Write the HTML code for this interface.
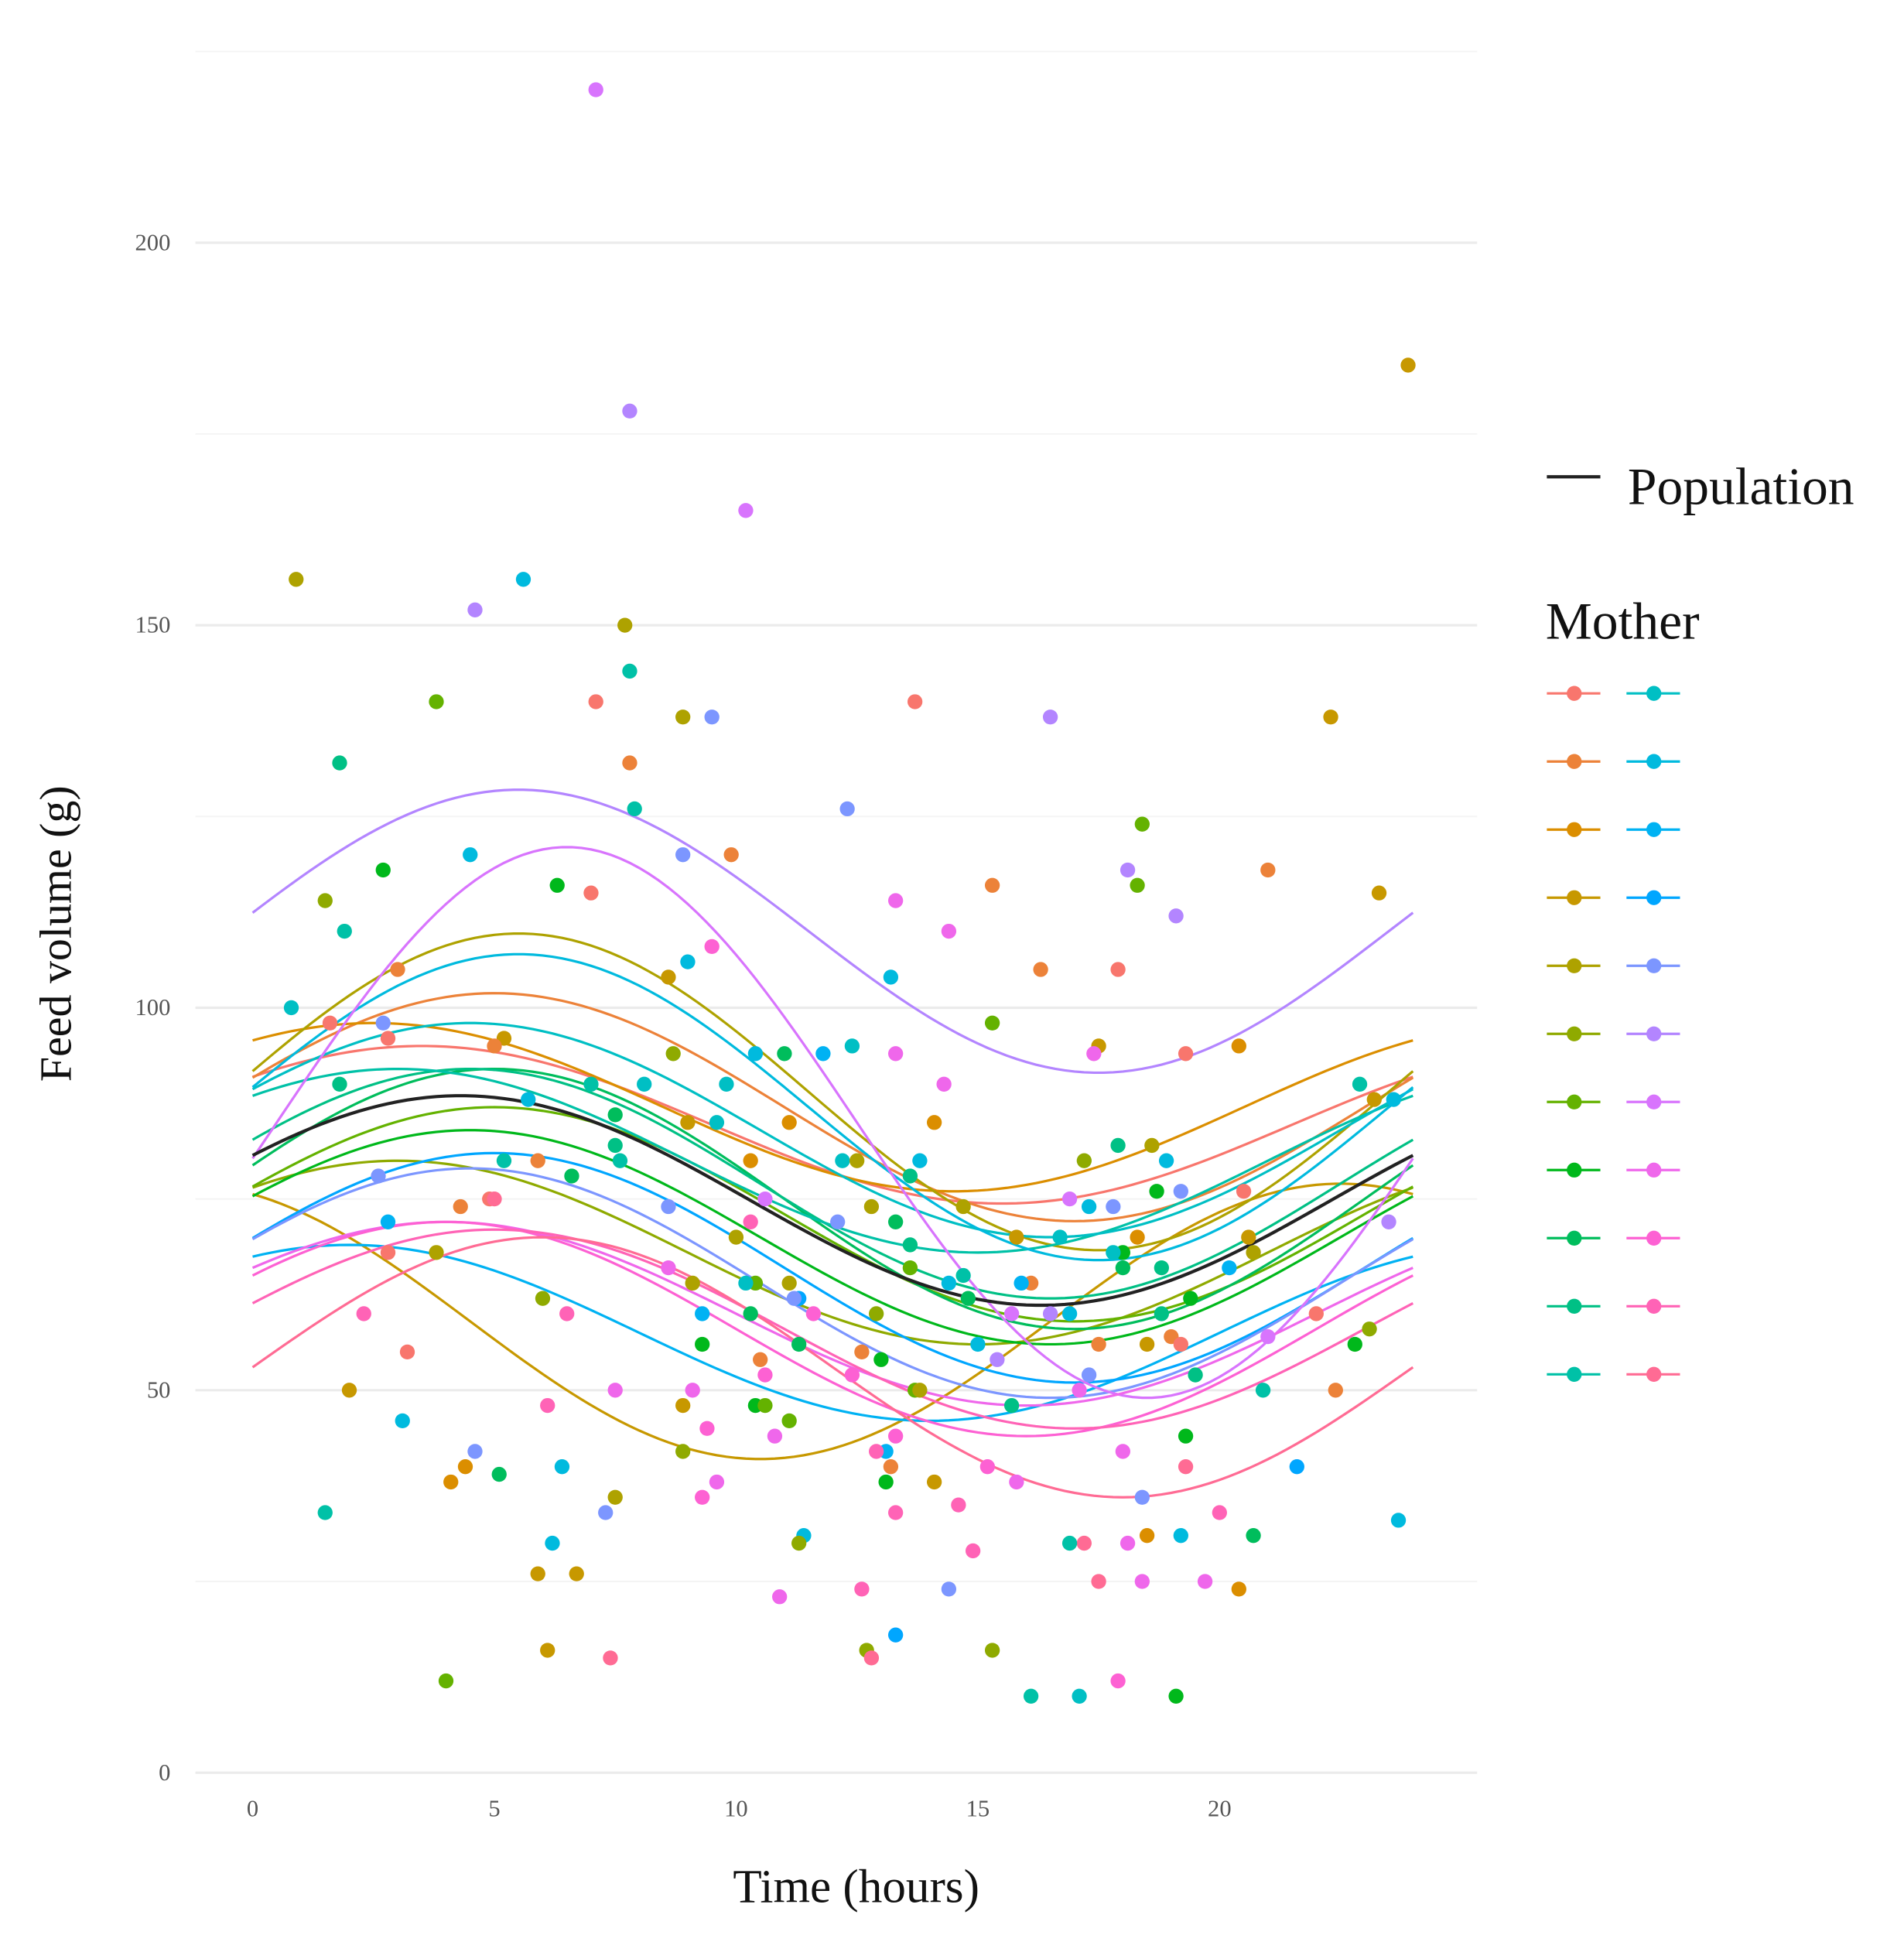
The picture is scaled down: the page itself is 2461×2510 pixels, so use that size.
<!DOCTYPE html>
<html><head><meta charset="utf-8"><style>
html,body{margin:0;padding:0;background:#fff;}
svg{display:block;}
text{font-family:"Liberation Serif",serif;}
</style></head><body>
<svg id="chart" width="2461" height="2510" viewBox="0 0 1530 1560" preserveAspectRatio="none" xmlns="http://www.w3.org/2000/svg">
<g id="grid"></g>
<g id="curves"></g>
<g id="points"></g>
<g id="axes"></g>
<text x="688" y="1528" font-size="38" text-anchor="middle" fill="#111">Time (hours)</text>
<text transform="translate(57,750) rotate(-90)" font-size="36" text-anchor="middle" fill="#111">Feed volume (g)</text>
<g id="legend"></g>
</svg>
<script>
const xTicks=[0,5,10,15,20];
const yTicks=[0,50,100,150,200];
const minorY=[25,75,125,175,225];
// population curve: mean, amplitude, peak hour
const popMean=74.8, popAmp=13.7, popPeak=4.3;
// per-mother curves
const motherMean=[84.7,87,87,59,89,68,73,70,75,77,80,84,87,57.5,66,64,110,85,60,58,58,53];
const motherAmp=[10.3,14.9,11,18,20.7,12,14,14,17,15,12,14,20,11.5,15,15,18.5,36,12,14,13,17];
const motherPeak=[3.5,5,2.5,22.5,5.5,3,5,4.5,5,4.5,3,4.5,5.5,2,5,4.5,5.5,6.5,4,4,5,6];
// points: hours, grams, mother index
const ptT=[7.1,23.9,7.8,10.2,0.9,4.6,5.6,7.7,7.1,3.8,7.8,8.9,9.5,7.8,13.7,16.5,22.3,1.8,7.9,12.3,2.7,4.5,8.9,9.9,1.5,6.3,7.0,15.3,18.4,18.1,18.3,21.0,23.3,13.3,19.1,14.4,0.8,1.9,1.6,2.7,2.8,3.0,5.2,5.0,8.6,9.0,9.5,12.4,13.2,15.3,16.3,17.9,17.5,17.4,20.4,19.3,14.3,13.3,10.4,11.0,11.8,1.8,5.7,7.0,8.1,7.5,8.7,9.8,9.6,9.0,11.1,14.1,12.2,12.5,7.5,7.6,5.2,5.9,10.3,13.8,6.6,2.6,4.3,4.9,10.6,13.6,12.8,14.7,15.8,16.7,16.9,17.2,17.9,18.6,17.8,17.3,18.7,19.2,18.9,18.3,18.0,17.8,18.0,18.5,17.5,18.8,19.0,18.8,19.4,19.5,19.2,20.5,20.6,20.7,20.2,21.0,20.9,21.6,22.0,22.4,22.8,23.1,22.9,23.2,23.6,23.5,23.7,19.2,19.3,19.1,19.3,20.0,20.4,20.7,19.7,18.4,18.5,18.4,18.1,17.9,18.0,17.5,17.2,16.9,17.1,16.1,15.8,15.7,15.2,15.3,14.6,14.9,14.4,14.1,15.0,15.7,16.1,15.9,16.5,16.9,17.3,17.1,14.7,14.4,14.8,15.4,13.6,13.6,13.3,12.9,12.6,13.0,13.7,13.8,13.2,13.3,13.1,12.9,13.1,13.3,12.6,12.7,12.8,13.3,11.4,11.3,10.9,10.8,11.1,10.4,10.6,10.6,10.5,11.3,11.6,11.3,10.4,10.3,11.2,12.4,12.1,11.1,10.0,10.3,10.2,9.1,8.6,8.6,9.3,9.3,9.1,8.9,8.9,9.4,9.6,9.3,7.5,7.5,7.3,7.4,6.7,6.1,5.9,6.4,6.2,6.1,6.5,6.0,5.1,4.4,4.1,4.6,4.0,3.8,3.2,3.1,2.3,2.0,1.5,2.8,2.8,5.0];
const ptV=[220,184,178,165,156,152,156,150,140,140,144,138,138,132,140,138,138,132,126,126,118,120,120,120,114,116,115,116,124,118,116,118,115,114,112,110,100,110,98,98,96,105,96,95,104,106,108,95,104,98,105,105,95,94,95,94,90,94,94,94,94,90,88,90,90,86,94,90,85,85,85,85,80,80,82,80,80,80,80,80,78,78,74,75,75,78,74,74,70,70,75,80,82,82,74,74,76,76,80,70,68,68,66,56,56,66,57,60,62,52,56,76,70,68,66,57,50,40,60,50,56,58,90,88,88,72,33,31,44,10,40,34,24,31,25,36,31,25,30,12,42,25,30,30,10,10,38,48,40,16,35,29,24,38,56,60,64,64,60,60,52,50,65,64,62,54,69,66,72,60,55,54,50,50,40,44,42,42,38,34,24,16,15,18,31,30,23,44,46,48,48,52,54,56,60,62,64,60,62,52,72,64,70,72,64,64,66,74,60,56,50,48,42,45,38,36,50,36,34,15,26,16,26,40,30,48,60,62,39,40,38,42,12,68,55,46,60,50,34,72,68,75];
const ptM=[17,3,16,17,4,16,12,4,0,6,10,4,15,1,0,16,3,9,10,15,7,12,15,1,5,7,0,1,6,16,6,1,3,18,16,18,11,10,0,15,0,1,3,1,3,12,19,11,12,6,1,0,3,18,2,0,18,18,12,8,13,9,12,10,11,8,5,11,11,3,2,2,11,4,9,10,10,1,2,12,8,15,1,0,17,9,4,4,3,11,17,5,9,4,15,12,7,15,12,2,7,11,8,3,1,9,1,9,7,9,0,0,3,4,13,17,10,14,0,1,7,5,10,3,12,16,12,12,7,7,21,20,2,8,18,15,2,18,18,19,18,21,21,10,11,10,18,9,19,5,20,20,15,3,12,17,1,13,16,12,15,18,10,12,8,16,9,6,8,5,1,7,6,4,1,19,13,20,7,20,20,5,21,14,12,5,18,18,6,7,6,19,1,8,19,14,6,8,15,19,15,4,4,20,11,4,18,15,13,7,18,3,5,19,18,19,18,4,15,21,3,3,3,12,12,20,20,5,8,2,2,15,6,4,0,12,20,3,10,13,0,21];

const NS="http://www.w3.org/2000/svg";
const X0=203, XS=38.85, Y0=1424, YS=6.145;
function sx(t){return X0+t*XS;}
function sy(v){return Y0-v*YS;}
function mk(tag,attrs,parent){const e=document.createElementNS(NS,tag);for(const k in attrs)e.setAttribute(k,attrs[k]);parent.appendChild(e);return e;}
function hcl(h){const L=65,C=100;const hr=h*Math.PI/180;const u=C*Math.cos(hr),v=C*Math.sin(hr);
 const Xn=95.047,Yn=100,Zn=108.883;const d=Xn+15*Yn+3*Zn;const un=4*Xn/d,vn=9*Yn/d;
 const Y=Yn*Math.pow((L+16)/116,3);const up=u/(13*L)+un,vp=v/(13*L)+vn;
 const X=Y*9*up/(4*vp),Z=Y*(12-3*up-20*vp)/(4*vp);
 const x=X/100,y=Y/100,z=Z/100;
 let r=3.2404542*x-1.5371385*y-0.4985314*z,g=-0.9692660*x+1.8760108*y+0.0415560*z,b=0.0556434*x-0.2040259*y+1.0572252*z;
 const gm=c=>{c=c<=0.0031308?12.92*c:1.055*Math.pow(c,1/2.4)-0.055;return Math.round(Math.max(0,Math.min(1,c))*255);};
 return "rgb("+gm(r)+","+gm(g)+","+gm(b)+")";}
const N=motherMean.length;
const cols=[];for(let i=0;i<N;i++)cols.push(hcl(15+i*360/N));

const grid=document.getElementById('grid');
for(const v of minorY){const l=mk('line',{x1:157,x2:1187,y1:sy(v),y2:sy(v),stroke:'#f4f4f4','stroke-width':1.2},grid);

}
for(const v of yTicks){const l=mk('line',{x1:157,x2:1187,y1:sy(v),y2:sy(v),stroke:'#ebebeb','stroke-width':2},grid);

}
const axes=document.getElementById('axes');
for(const v of yTicks){const t=mk('text',{x:137,y:sy(v)+6,'font-size':19,'text-anchor':'end',fill:'#555'},axes);t.textContent=v;

}
for(const v of xTicks){const t=mk('text',{x:sx(v),y:1459,'font-size':19,'text-anchor':'middle',fill:'#555'},axes);t.textContent=v;

}

function curvePath(m,a,p){let d='';for(let i=0;i<=120;i++){const t=24*i/120;const v=m+a*Math.cos(2*Math.PI*(t-p)/24);d+=(i?'L':'M')+sx(t).toFixed(2)+','+sy(v).toFixed(2);}return d;}
const cg=document.getElementById('curves');
for(let i=0;i<N;i++){const p=mk('path',{d:curvePath(motherMean[i],motherAmp[i],motherPeak[i]),fill:'none',stroke:cols[i],'stroke-width':2},cg);

}
const pop=mk('path',{d:curvePath(popMean,popAmp,popPeak),fill:'none',stroke:'#222','stroke-width':2.6},cg);


const pg=document.getElementById('points');
for(let i=0;i<ptT.length;i++){const c=mk('circle',{cx:sx(ptT[i]),cy:sy(ptV[i]),r:6,fill:cols[ptM[i]]},pg);

}

const lg=document.getElementById('legend');
const pl=mk('line',{x1:1243,x2:1286,y1:383,y2:383,stroke:'#222','stroke-width':2.6},lg);


const pt=mk('text',{x:1308,y:405,'font-size':42,fill:'#111'},lg);pt.textContent='Population';


const mt=mk('text',{x:1242,y:513,'font-size':42,fill:'#111'},lg);mt.textContent='Mother';


for(let i=0;i<N;i++){const col=Math.floor(i/11),row=i%11;const x=1243+col*64,y=557+row*54.7;
 const g=mk('g',{},lg);
 
 
 mk('line',{x1:x,x2:x+43,y1:y,y2:y,stroke:cols[i],'stroke-width':2},g);
 mk('circle',{cx:x+22,cy:y,r:6,fill:cols[i]},g);}
</script>
</body></html>
